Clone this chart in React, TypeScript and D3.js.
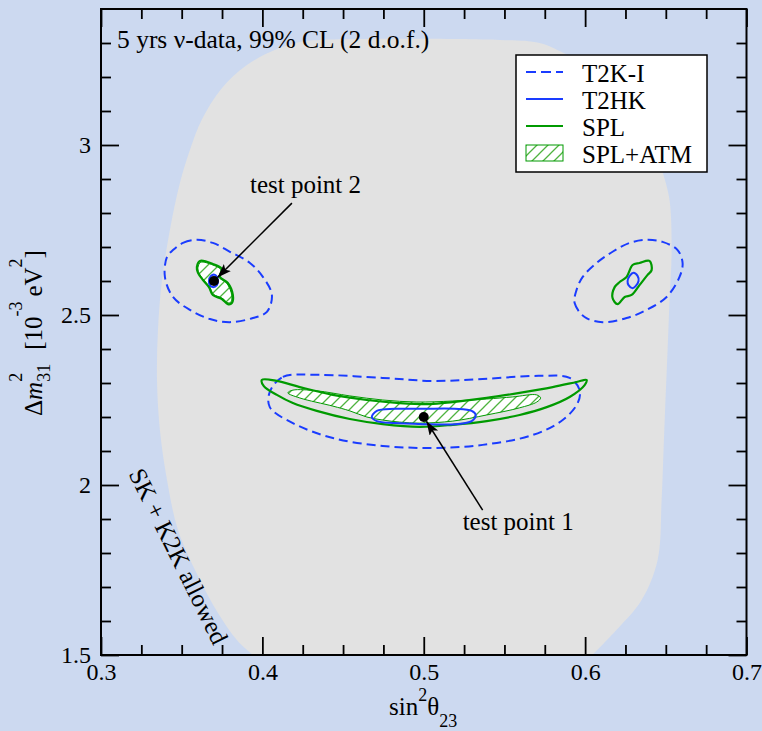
import * as d3 from 'd3';
import React, { useRef, useEffect } from 'react';

// axis ticks
const xTicksMajor = [0.3, 0.4, 0.5, 0.6, 0.7];
const xTickLabels = ['0.3', '0.4', '0.5', '0.6', '0.7'];
const xTicksMinor = [0.325, 0.35, 0.375, 0.425, 0.45, 0.475, 0.525, 0.55, 0.575, 0.625, 0.65, 0.675];
const yTicksMajor = [1.5, 2, 2.5, 3];
const yTickLabels = ['1.5', '2', '2.5', '3'];
const yTicksMinor = [1.6, 1.7, 1.8, 1.9, 2.1, 2.2, 2.3, 2.4, 2.6, 2.7, 2.8, 2.9, 3.1, 3.2, 3.3];

// SK + K2K allowed region (open at the bottom axis)
const skAllowed = [
  [0.3941, 1.5], [0.3842, 1.544], [0.3724, 1.624], [0.3613, 1.721], [0.3477, 1.868],
  [0.3409, 2.015], [0.3365, 2.162], [0.3347, 2.309], [0.3353, 2.456], [0.3378, 2.603],
  [0.3427, 2.75], [0.3489, 2.888], [0.3551, 2.985], [0.3625, 3.075], [0.3745, 3.165],
  [0.3904, 3.235], [0.409, 3.282], [0.4232, 3.303], [0.4356, 3.309], [0.5471, 3.309],
  [0.5718, 3.3], [0.5892, 3.265], [0.609, 3.221], [0.6276, 3.147], [0.6399, 3.044],
  [0.648, 2.921], [0.6523, 2.838], [0.6536, 2.691], [0.6523, 2.544], [0.6511, 2.397],
  [0.6498, 2.25], [0.6486, 2.103], [0.6474, 1.956], [0.6449, 1.779], [0.635, 1.662],
  [0.6195, 1.574], [0.6046, 1.5],
];

// T2K-I 99% CL contours
const t2kLeft = [
  [0.3446, 2.691], [0.3508, 2.712], [0.3594, 2.721], [0.3693, 2.712], [0.3799, 2.686],
  [0.3923, 2.653], [0.4003, 2.612], [0.4059, 2.559], [0.4028, 2.509], [0.3941, 2.491],
  [0.3799, 2.479], [0.3675, 2.488], [0.3551, 2.515], [0.3446, 2.553], [0.3396, 2.612],
  [0.3409, 2.671],
];
const t2kRight = [
  [0.5947, 2.574], [0.5935, 2.535], [0.5997, 2.494], [0.6108, 2.479], [0.6257, 2.491],
  [0.6381, 2.515], [0.6505, 2.553], [0.6585, 2.612], [0.6604, 2.653], [0.6573, 2.691],
  [0.648, 2.715], [0.6381, 2.721], [0.6276, 2.712], [0.617, 2.686], [0.6071, 2.653],
  [0.5985, 2.612],
];
const t2kCenter = [
  [0.4046, 2.274], [0.4127, 2.318], [0.4337, 2.324], [0.4746, 2.315], [0.5056, 2.306],
  [0.5365, 2.312], [0.5718, 2.321], [0.5904, 2.315], [0.5966, 2.279], [0.5954, 2.241],
  [0.5861, 2.191], [0.5675, 2.147], [0.5365, 2.118], [0.5056, 2.109], [0.4746, 2.115],
  [0.4437, 2.138], [0.4189, 2.182], [0.4046, 2.229],
];

// T2HK contours
const t2hkCenter = [
  [0.4678, 2.2], [0.4709, 2.218], [0.482, 2.224], [0.4994, 2.224], [0.5192, 2.224],
  [0.5297, 2.218], [0.5322, 2.206], [0.5297, 2.188], [0.5192, 2.179], [0.4994, 2.179],
  [0.482, 2.182], [0.4709, 2.188],
];
const t2hkLeft = [
  [0.3669, 2.6], [0.3681, 2.615], [0.3706, 2.618], [0.3724, 2.603], [0.3718, 2.588],
  [0.3693, 2.582], [0.3675, 2.588],
];
const t2hkRight = [
  [0.6263, 2.6], [0.6276, 2.615], [0.63, 2.624], [0.6325, 2.615], [0.6331, 2.6],
  [0.6313, 2.585], [0.6294, 2.579], [0.6269, 2.588],
];

// SPL contours
const splCenter = [
  [0.3997, 2.309], [0.409, 2.306], [0.4232, 2.288], [0.4437, 2.265], [0.4647, 2.25],
  [0.4851, 2.241], [0.5037, 2.238], [0.518, 2.244], [0.539, 2.256], [0.5594, 2.271],
  [0.5799, 2.288], [0.5947, 2.303], [0.6009, 2.309], [0.5997, 2.294], [0.5904, 2.259],
  [0.5762, 2.229], [0.5594, 2.206], [0.539, 2.188], [0.518, 2.177], [0.4975, 2.171],
  [0.4746, 2.179], [0.4542, 2.194], [0.4337, 2.218], [0.4189, 2.241], [0.409, 2.265],
  [0.4009, 2.291],
];
const splLeft = [
  [0.3594, 2.641], [0.3613, 2.659], [0.3693, 2.65], [0.3749, 2.635], [0.3737, 2.612],
  [0.3786, 2.594], [0.3817, 2.559], [0.3811, 2.535], [0.3786, 2.532], [0.3749, 2.547],
  [0.3693, 2.559], [0.3669, 2.582], [0.3632, 2.603], [0.3601, 2.624],
];
const splRight = [
  [0.617, 2.55], [0.6183, 2.582], [0.6214, 2.597], [0.6257, 2.612], [0.6294, 2.647],
  [0.6337, 2.653], [0.6399, 2.659], [0.6412, 2.632], [0.6387, 2.618], [0.6337, 2.588],
  [0.6288, 2.559], [0.6245, 2.553], [0.6201, 2.532],
];

// SPL+ATM contours (hatched)
const atmCenter = [
  [0.4158, 2.271], [0.4189, 2.279], [0.4337, 2.277], [0.4542, 2.262], [0.4746, 2.25],
  [0.4957, 2.244], [0.518, 2.247], [0.539, 2.253], [0.5551, 2.259], [0.57, 2.265],
  [0.5724, 2.256], [0.57, 2.244], [0.5594, 2.227], [0.539, 2.206], [0.518, 2.188],
  [0.4975, 2.182], [0.4851, 2.185], [0.4746, 2.191], [0.4647, 2.2], [0.4542, 2.218],
  [0.4437, 2.232], [0.4232, 2.256],
];
const atmLeft = [
  [0.3601, 2.64], [0.3618, 2.655], [0.3693, 2.647], [0.3743, 2.633], [0.3731, 2.611],
  [0.378, 2.593], [0.381, 2.559], [0.3805, 2.538], [0.3786, 2.536], [0.3749, 2.55],
  [0.3697, 2.561], [0.3673, 2.583], [0.3636, 2.603], [0.3607, 2.624],
];

// test points and their labels
const testPoints = [
  { name: 'test point 1', at: [0.5, 2.2], label: [0.5241, 1.868], tail: [0.5365, 1.926] },
  { name: 'test point 2', at: [0.37, 2.6], label: [0.3923, 2.859], tail: [0.4183, 2.829] },
];

const legendItems = [
  { name: 'T2K-I', kind: 'dash' },
  { name: 'T2HK', kind: 'blue' },
  { name: 'SPL', kind: 'green' },
  { name: 'SPL+ATM', kind: 'hatch' },
];

const BLUE = '#1a3cff';
const GREEN = '#009a00';
const HATCH = '#4fb33f';
const FONT = "'Liberation Serif', 'Times New Roman', serif";

function App() {
  const ref = useRef(null);
  const W = 762, H = 731;
  const margin = { top: 9, right: 15.5, bottom: 76, left: 101 };

  useEffect(() => {
    const svg = d3.select(ref.current);
    svg.selectAll('*').remove();

    const x = d3.scaleLinear().domain([0.3, 0.7]).range([margin.left, W - margin.right]);
    const y = d3.scaleLinear().domain([1.5, 3.4]).range([H - margin.bottom, margin.top]);
    const x0 = margin.left, x1 = W - margin.right, y0 = H - margin.bottom, y1 = margin.top;

    svg.append('rect').attr('width', W).attr('height', H).attr('fill', '#ccd9f0');

    const defs = svg.append('defs');
    defs.append('clipPath').attr('id', 'plotclip')
      .append('rect').attr('x', x0).attr('y', y1).attr('width', x1 - x0).attr('height', y0 - y1);
    const pat = defs.append('pattern').attr('id', 'hatch')
      .attr('patternUnits', 'userSpaceOnUse').attr('width', 11).attr('height', 11);
    pat.append('rect').attr('width', 11).attr('height', 11).attr('fill', 'white');
    pat.append('path').attr('d', 'M-2,13 L13,-2 M-2,2 L2,-2 M9,13 L13,9')
      .attr('stroke', HATCH).attr('stroke-width', 1.3);
    defs.append('marker').attr('id', 'arrow')
      .attr('markerUnits', 'userSpaceOnUse').attr('markerWidth', 16).attr('markerHeight', 12)
      .attr('refX', 14).attr('refY', 5).attr('orient', 'auto')
      .append('path').attr('d', 'M0,0 L14,5 L0,10 L3,5 Z').attr('fill', 'black');

    const plot = svg.append('g').attr('clip-path', 'url(#plotclip)');

    const open = d3.line().x(d => x(d[0])).y(d => y(d[1])).curve(d3.curveCatmullRom.alpha(0.5));
    const closed = d3.line().x(d => x(d[0])).y(d => y(d[1])).curve(d3.curveCatmullRomClosed.alpha(0.5));

    plot.append('path').attr('d', open(skAllowed) + 'Z').attr('fill', '#e2e2e2');

    [t2kLeft, t2kRight, t2kCenter].forEach(c => {
      plot.append('path').attr('d', closed(c)).attr('fill', 'none')
        .attr('stroke', BLUE).attr('stroke-width', 2).attr('stroke-dasharray', '9,5');
    });
    [atmCenter, atmLeft].forEach(c => {
      plot.append('path').attr('d', closed(c)).attr('fill', 'url(#hatch)')
        .attr('stroke', GREEN).attr('stroke-width', 1);
    });
    [splCenter, splLeft, splRight].forEach(c => {
      plot.append('path').attr('d', closed(c)).attr('fill', 'none')
        .attr('stroke', GREEN).attr('stroke-width', 2.2).attr('stroke-linejoin', 'round');
    });
    [t2hkCenter, t2hkLeft, t2hkRight].forEach(c => {
      plot.append('path').attr('d', closed(c)).attr('fill', 'none')
        .attr('stroke', BLUE).attr('stroke-width', 2);
    });

    testPoints.forEach(p => {
      const px = x(p.at[0]), py = y(p.at[1]);
      const tx = x(p.tail[0]), ty = y(p.tail[1]);
      const len = Math.hypot(tx - px, ty - py);
      const ex = px + (tx - px) / len * 5, ey = py + (ty - py) / len * 5;
      plot.append('line').attr('x1', tx).attr('y1', ty).attr('x2', ex).attr('y2', ey)
        .attr('stroke', 'black').attr('stroke-width', 1.5).attr('marker-end', 'url(#arrow)');
      plot.append('circle').attr('cx', px).attr('cy', py).attr('r', 5).attr('fill', 'black');
      svg.append('text').attr('x', x(p.label[0])).attr('y', y(p.label[1]))
        .attr('font-family', FONT).attr('font-size', 25).text(p.name);
    });

    svg.append('text').attr('x', 117).attr('y', 48)
      .attr('font-family', FONT).attr('font-size', 25.5).text('5 yrs ν-data, 99% CL (2 d.o.f.)');

    svg.append('text')
      .attr('transform', `translate(171,560) rotate(63.7)`)
      .attr('text-anchor', 'middle')
      .attr('font-family', FONT).attr('font-size', 25).text('SK + K2K allowed');

    // legend
    const lg = svg.append('g');
    lg.append('rect').attr('x', 516).attr('y', 55).attr('width', 191).attr('height', 117)
      .attr('fill', 'white').attr('stroke', 'black').attr('stroke-width', 1.5);
    legendItems.forEach((it, i) => {
      const cy = 72 + i * 27;
      if (it.kind === 'hatch') {
        lg.append('rect').attr('x', 526).attr('y', cy - 8).attr('width', 37).attr('height', 16)
          .attr('fill', 'url(#hatch)').attr('stroke', GREEN).attr('stroke-width', 1);
      } else {
        lg.append('line').attr('x1', 526).attr('x2', 563).attr('y1', cy).attr('y2', cy)
          .attr('stroke', it.kind === 'green' ? GREEN : BLUE).attr('stroke-width', 2)
          .attr('stroke-dasharray', it.kind === 'dash' ? '10,5' : null);
      }
      lg.append('text').attr('x', 582).attr('y', cy + 9.5)
        .attr('font-family', FONT).attr('font-size', 25).text(it.name);
    });

    // axes
    const style = g => {
      g.select('.domain').remove();
      g.attr('font-family', FONT).attr('font-size', 24);
      g.selectAll('line').attr('stroke', 'black').attr('stroke-width', 1.8);
      g.selectAll('text').attr('fill', 'black');
    };
    svg.append('g').attr('transform', `translate(0,${y0})`)
      .call(d3.axisBottom(x).tickValues(xTicksMajor).tickFormat((d, i) => xTickLabels[i]).tickSize(-18).tickPadding(8)).call(style);
    svg.append('g').attr('transform', `translate(0,${y0})`)
      .call(d3.axisBottom(x).tickValues(xTicksMinor).tickFormat(() => '').tickSize(-10)).call(style);
    svg.append('g').attr('transform', `translate(0,${y1})`)
      .call(d3.axisTop(x).tickValues(xTicksMajor).tickFormat(() => '').tickSize(-18)).call(style);
    svg.append('g').attr('transform', `translate(0,${y1})`)
      .call(d3.axisTop(x).tickValues(xTicksMinor).tickFormat(() => '').tickSize(-10)).call(style);
    svg.append('g').attr('transform', `translate(${x0},0)`)
      .call(d3.axisLeft(y).tickValues(yTicksMajor).tickFormat((d, i) => yTickLabels[i]).tickSize(-18).tickPadding(10)).call(style);
    svg.append('g').attr('transform', `translate(${x0},0)`)
      .call(d3.axisLeft(y).tickValues(yTicksMinor).tickFormat(() => '').tickSize(-10)).call(style);
    svg.append('g').attr('transform', `translate(${x1},0)`)
      .call(d3.axisRight(y).tickValues(yTicksMajor).tickFormat(() => '').tickSize(-18)).call(style);
    svg.append('g').attr('transform', `translate(${x1},0)`)
      .call(d3.axisRight(y).tickValues(yTicksMinor).tickFormat(() => '').tickSize(-10)).call(style);

    svg.append('rect').attr('x', x0).attr('y', y1).attr('width', x1 - x0).attr('height', y0 - y1)
      .attr('fill', 'none').attr('stroke', 'black').attr('stroke-width', 2);

    // axis titles
    const xl = svg.append('text').attr('x', 389).attr('y', 715)
      .attr('font-family', FONT).attr('font-size', 25);
    xl.append('tspan').text('sin');
    xl.append('tspan').attr('dy', -14).attr('font-size', 18).text('2');
    xl.append('tspan').attr('dy', 14).text('θ');
    xl.append('tspan').attr('dy', 12).attr('font-size', 18).text('23');

    const yl = svg.append('text').attr('transform', 'translate(42,416) rotate(-90)')
      .attr('font-family', FONT).attr('font-size', 25);
    yl.append('tspan').text('Δ');
    yl.append('tspan').attr('font-style', 'italic').text('m');
    yl.append('tspan').attr('dy', -20).attr('font-size', 18).text('2');
    yl.append('tspan').attr('dx', -9).attr('dy', 28).attr('font-size', 18).text('31');
    yl.append('tspan').attr('dx', 14).attr('dy', -8).text('[10');
    yl.append('tspan').attr('dy', -20).attr('font-size', 18).text('-3');
    yl.append('tspan').attr('dx', 5).attr('dy', 20).text('eV');
    yl.append('tspan').attr('dy', -20).attr('font-size', 18).text('2');
    yl.append('tspan').attr('dy', 20).text(']');
  }, []);

  return (
    <svg ref={ref} width={W} height={H} style={{ position: 'absolute', left: 0, top: 0, display: 'block' }} />
  );
}

export default App;
